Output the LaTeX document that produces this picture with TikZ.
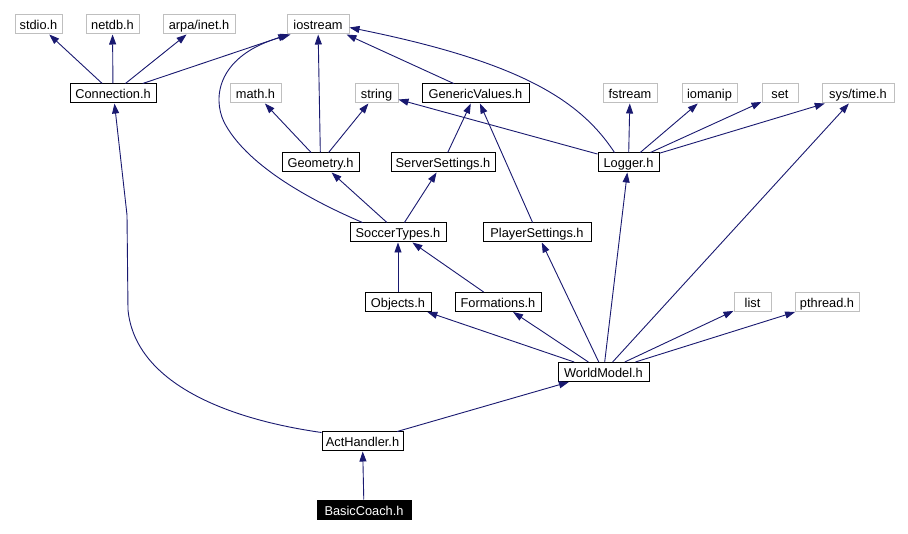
\documentclass[tikz,border=0pt]{standalone}
\usepackage{fontspec}
\setmainfont{Liberation Sans}
\usetikzlibrary{arrows.meta}
\definecolor{edgeblue}{RGB}{25,25,112}
\definecolor{extgray}{RGB}{191,191,191}
\begin{document}
\begin{tikzpicture}[x=1pt,y=-1pt,
  box/.style={rectangle, inner sep=0pt, minimum height=19pt, line width=1pt,
    font=\fontsize{12.8pt}{14pt}\selectfont, text height=11.5pt, text depth=0.5pt, fill=white},
  ext/.style={box, draw=extgray},
  proj/.style={box, draw=black},
  root/.style={box, draw=black, fill=black, text=white},
  edge/.style={draw=edgeblue, line width=0.9pt, -{Triangle[length=10pt,width=7pt]}}
]
\fill[white] (0,0) rectangle (908,534);
\useasboundingbox (0,0) rectangle (908,534);

% row 1
\node[ext, minimum width=47pt] (stdio) at (38.5,24.5) {stdio.h};
\node[ext, minimum width=53pt] (netdb) at (112.5,24.5) {netdb.h};
\node[ext, minimum width=72pt] (arpa) at (199,24.5) {arpa/inet.h};
\node[ext, minimum width=62pt] (io) at (318,24.5) {iostream};
% row 2
\node[proj, minimum width=86pt] (con) at (113,93.5) {Connection.h};
\node[ext, minimum width=51pt] (math) at (255.5,93.5) {math.h};
\node[ext, minimum width=43pt] (str) at (376.5,93.5) {string};
\node[proj, minimum width=107pt] (gv) at (475.5,93.5) {GenericValues.h};
\node[ext, minimum width=54pt] (fs) at (630,93.5) {fstream};
\node[ext, minimum width=55pt] (iom) at (709.5,93.5) {iomanip};
\node[ext, minimum width=36pt] (set) at (780,93.5) {set};
\node[ext, minimum width=72pt] (sys) at (858,93.5) {sys/time.h};
% row 3
\node[proj, minimum width=77pt] (geo) at (320.5,162.5) {Geometry.h};
\node[proj, minimum width=104pt] (ss) at (443,162.5) {ServerSettings.h};
\node[proj, minimum width=61pt] (log) at (628.5,162.5) {Logger.h};
% row 4
\node[proj, minimum width=96pt] (st) at (398,232.5) {SoccerTypes.h};
\node[proj, minimum width=108pt] (ps) at (537,232.5) {PlayerSettings.h};
% row 5
\node[proj, minimum width=66pt] (obj) at (398,302) {Objects.h};
\node[proj, minimum width=86pt] (form) at (498,302) {Formations.h};
\node[ext, minimum width=37pt] (list) at (752.5,302) {list};
\node[ext, minimum width=64pt] (pth) at (827,302) {pthread.h};
% lower rows
\node[proj, minimum width=91pt] (wm) at (603.5,372) {WorldModel.h};
\node[proj, minimum width=81pt] (ah) at (362.5,441.5) {ActHandler.h};
\node[root, minimum width=94pt] (bc) at (364,509.5) {BasicCoach.h};

% Connection.h
\draw[edge] (con) -- (stdio);
\draw[edge] (con) -- (netdb);
\draw[edge] (con) -- (arpa);
\draw[edge] (con) -- (io);
% GenericValues.h
\draw[edge] (gv) -- ([xshift=-3pt]io.south east);
% Geometry.h
\draw[edge] (geo) -- (io);
\draw[edge] (geo) -- (math);
\draw[edge] (geo) -- (str);
% ServerSettings.h
\draw[edge] (ss) -- (gv);
% SoccerTypes.h
\draw[edge] ([xshift=13pt]st.north west) .. controls (305,198) and (245,163) .. (224,122)
  .. controls (212,97) and (218,55) .. ([xshift=4pt]io.south west);
\draw[edge] (st) -- (geo);
\draw[edge] (st) -- (ss);
% Logger.h
\draw[edge] ([xshift=17pt]log.north west) .. controls (580,100) and (520,62) .. ([yshift=-3pt]io.east);
\draw[edge] (log) -- (str);
\draw[edge] (log) -- (fs);
\draw[edge] (log) -- (iom);
\draw[edge] (log) -- (set);
\draw[edge] (log) -- (sys);
% PlayerSettings.h
\draw[edge] (ps) -- (gv);
% Objects.h, Formations.h
\draw[edge] (obj) -- (st);
\draw[edge] (form) -- (st);
% WorldModel.h
\draw[edge] (wm) -- (obj);
\draw[edge] (wm) -- (form);
\draw[edge] (wm) -- (ps);
\draw[edge] (wm) -- (log);
\draw[edge] (wm) -- (sys);
\draw[edge] (wm) -- (list);
\draw[edge] (wm) -- (pth);
% ActHandler.h
\draw[edge] ([yshift=-1pt]ah.north west) .. controls (220,418) and (135,380) .. (128,310)
  -- (127,215) -- ([xshift=45pt]con.south west);
\draw[edge] (ah) -- (wm);
% BasicCoach.h
\draw[edge] (bc) -- (ah);
\end{tikzpicture}
\end{document}
